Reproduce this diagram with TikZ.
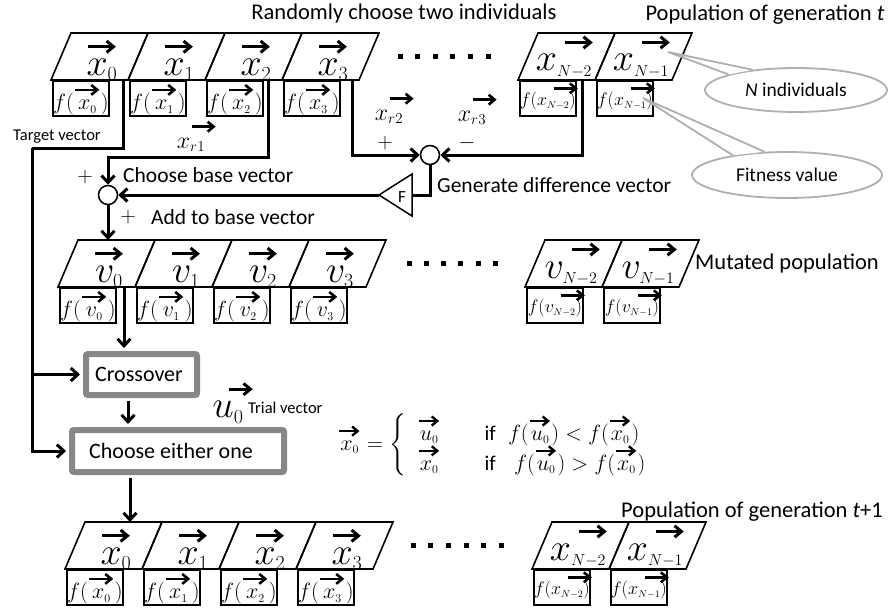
\RequirePackage{fix-cm}
\documentclass[tikz,border=0pt]{standalone}
\usepackage{amsmath}
\usepackage{graphicx}
\usepackage[no-math]{fontspec}
\setmainfont{Carlito}
\usetikzlibrary{arrows.meta,calc,shapes.geometric}
\DeclareMathSizes{38}{38}{20}{16}
\DeclareMathSizes{24}{24}{15}{10}
\DeclareMathSizes{22}{22}{12}{9}
\DeclareMathSizes{18}{18}{10}{8}
\definecolor{boxgray}{RGB}{135,135,135}
\definecolor{tipgray}{RGB}{175,175,175}

% heavy vector arrow over a symbol: #1 arrow length, #2 stroke width, #3 symbol
\newcommand\ovec[3]{\overset{\tikz\draw[line width=#2,
  -{Straight Barb[length=0pt 2.3,width=0pt 3.8]}] (0pt,0pt) -- (#1,0pt);}{#3}}

\tikzset{
  cellline/.style={line width=1.6pt},
  celltext/.style={inner sep=0pt, font=\fontsize{38}{38}\selectfont},
  fitbox/.style={draw, line width=1.8pt, minimum width=56pt, minimum height=35pt,
    inner sep=0pt, anchor=north west, font=\fontsize{22}{22}\selectfont},
  fitboxs/.style={fitbox, font=\fontsize{18}{18}\selectfont},
  wire/.style={line width=3pt},
  conn/.style={line width=3pt, -{Straight Barb[length=7pt,width=13pt]}},
  procbox/.style={draw=boxgray, line width=6pt, fill=white, rounded corners=2pt,
    inner sep=0pt},
  proctext/.style={inner sep=0pt, font=\fontsize{22}{22}\selectfont},
  sumnode/.style={circle, draw, line width=1.5pt, minimum size=19pt, inner sep=0pt},
  head/.style={inner sep=0pt, font=\fontsize{22.5}{22.5}\selectfont},
  lbl/.style={inner sep=0pt, font=\fontsize{21.5}{21.5}\selectfont},
  small/.style={inner sep=0pt, font=\fontsize{16.5}{16.5}\selectfont},
  vlab/.style={inner sep=0pt, font=\fontsize{24}{24}\selectfont},
  callout/.style={draw=tipgray, line width=1.8pt, fill=white, ellipse, inner sep=0pt,
    font=\fontsize{19.5}{19.5}\selectfont},
  tipline/.style={draw=tipgray, line width=1.8pt},
}

% one individual: parallelogram with its vector and the fitness box below
% #1 name, #2 x of lower left corner, #3 y of lower edge, #4 vector, #5 fitness,
% #6 box style, #7 horizontal place of the vector inside the parallelogram
\newcommand\popcell[7]{%
  \draw[cellline] (#2,#3) -- ++(77,0) -- ++(20,-47) -- ++(-77,0) -- cycle;
  \path (#2,#3) ++(#7,-21) node[celltext] (#1) {$\ovec{28pt}{3pt}{#4}$};
  \path (#2,#3) ++(1,0) node[#6] (#1f) {$f(\ovec{24pt}{2.6pt}{#5})$};
}

\begin{document}
\begin{tikzpicture}[x=1pt,y=-1pt]
\useasboundingbox (0,0) rectangle (888,608);

% ---------- generation t ----------
\node[head] (hrand) at (404,14) {Randomly choose two individuals};
\node[head] (hpop) at (765,15) {Population of generation \textit{t}};

\popcell{x0}{51}{80}{x_0}{x_0}{fitbox}{51}
\popcell{x1}{128}{80}{x_1}{x_1}{fitbox}{51}
\popcell{x2}{205}{80}{x_2}{x_2}{fitbox}{51}
\popcell{x3}{282}{80}{x_3}{x_3}{fitbox}{51}
\popcell{xm}{518}{80}{x_{\scriptscriptstyle N-2}}{x_{N-2}}{fitboxs}{46}
\popcell{xn}{595}{80}{x_{\scriptscriptstyle N-1}}{x_{N-1}}{fitboxs}{46}
\foreach \i in {0,...,5} \fill ({400+17.6*\i-2.5},53.5) rectangle ++(5,5);

% callouts
\node[callout, minimum width=182pt, minimum height=44pt] (nind) at (796,90) {\textit{N} individuals};
\coordinate (nindtip) at (668,52);
\fill[white] (nind.167) -- (nind.155) -- ($(nind.167)!0.5!(nind.155)!0.4!(nindtip)$) -- cycle;
\draw[tipline] (nind.167) -- (nindtip) -- (nind.155);

\node[callout, minimum width=190pt, minimum height=46pt] (nfit) at (787,175) {Fitness value};
\coordinate (nfittip) at (643,98);
\fill[white] (nfit.160) -- (nfit.134) -- ($(nfit.160)!0.5!(nfit.134)!0.4!(nfittip)$) -- cycle;
\draw[tipline] (nfit.160) -- (nfittip) -- (nfit.134);

% ---------- mutation ----------
\coordinate (x0o) at (123,80);
\coordinate (x2o) at (268,80);
\coordinate (x3o) at (352,80);
\coordinate (xmo) at (582,80);
\coordinate (tgtcorner) at (32,148);
\coordinate (r1corner) at (268,157);

\node[sumnode] (base) at (108,195) {};
\node[sumnode] (diff) at (430,155) {};
\draw[line width=1.5pt, line join=miter] (412,174) -- (412,216) -- (379,195) -- cycle;
\coordinate (fin) at (412,195);
\coordinate (fout) at (379,195);
\node[inner sep=0pt, font=\fontsize{17}{17}\selectfont] (amp) at (402,197) {F};

\node[small, anchor=west] (ttgt) at (13,137) {Target vector};
\node[vlab] (lr1) at (191,138) {$\ovec{24pt}{2.6pt}{x_{r1}}$};
\node[vlab] (lr2) at (389,110) {$\ovec{24pt}{2.6pt}{x_{r2}}$};
\node[lbl] (plus2) at (385,143) {$+$};
\node[vlab] (lr3) at (472,111) {$\ovec{24pt}{2.6pt}{x_{r3}}$};
\node[lbl] (minus3) at (467,143) {$-$};
\node[lbl] (plusb) at (85,177) {$+$};
\node[lbl, anchor=west] (tbase) at (123,175) {Choose base vector};
\node[lbl] (plusa) at (128,217) {$+$};
\node[lbl, anchor=west] (tadd) at (151,217) {Add to base vector};
\node[lbl, anchor=west] (tgen) at (437,185) {Generate difference vector};

\draw[conn] (x2o) -- (r1corner) -| (base.north);
\draw[conn] (x3o) |- (diff.west);
\draw[conn] (xmo) |- (diff.east);
\draw[wire] (diff.south) |- (fin);
\draw[conn] (fout) -- (base.east);
\coordinate (v0top) at (108,240);
\draw[conn] (base.south) -- (v0top);

% ---------- mutated population ----------
\popcell{v0}{58}{287}{v_0}{v_0}{fitbox}{51}
\popcell{v1}{135}{287}{v_1}{v_1}{fitbox}{51}
\popcell{v2}{212}{287}{v_2}{v_2}{fitbox}{51}
\popcell{v3}{289}{287}{v_3}{v_3}{fitbox}{51}
\popcell{vm}{525}{287}{v_{\scriptscriptstyle N-2}}{v_{N-2}}{fitboxs}{46}
\popcell{vn}{602}{287}{v_{\scriptscriptstyle N-1}}{v_{N-1}}{fitboxs}{46}
\foreach \i in {0,...,5} \fill ({409+17.3*\i-2.5},260.5) rectangle ++(5,5);
\node[head, anchor=west] (hmut) at (695,263) {Mutated population};

% ---------- crossover and selection ----------
\node[procbox, minimum width=111pt, minimum height=41pt] (cross) at (141.5,374.5) {};
\node[proctext] (tcross) at (139,374) {Crossover};
\node[procbox, minimum width=212pt, minimum height=42pt] (choose) at (178,451) {};
\node[proctext] (tchoose) at (171,451) {Choose either one};
\coordinate (v0o) at (124,287);
\coordinate (ccol) at (128,400);
\coordinate (scol) at (130,480);
\coordinate (x0n) at (130,522);

\draw[wire] (x0o) |- (tgtcorner);
\draw[conn, shorten >=3pt] (tgtcorner) |- (choose.west);
\draw[conn, shorten >=3pt] (tgtcorner |- cross.west) -- (cross.west);
\draw[conn, shorten >=3pt] (v0o) -- (v0o |- cross.north);
\draw[conn, shorten <=3pt, shorten >=3pt] (cross.south -| ccol) -- (choose.north -| ccol);
\draw[conn, shorten <=3pt] (choose.south -| scol) -- (x0n);

\node[celltext] (lu0) at (228,405) {$\ovec{24pt}{3pt}{u_0}$};
\node[small, anchor=west] (ttrial) at (248,408) {Trial vector};

\node[inner sep=0pt, font=\fontsize{22}{22}\selectfont] (rule) at (495,445)
  {$\ovec{20pt}{2.4pt}{x_0} = \left\{\begin{array}{@{\;\;}l@{\qquad}l@{\;\;}l}
     \ovec{20pt}{2.4pt}{u_0} & \text{\fontsize{21}{21}\selectfont if} &
       f(\ovec{20pt}{2.4pt}{u_0}) < f(\ovec{20pt}{2.4pt}{x_0})\\[-4pt]
     \ovec{20pt}{2.4pt}{x_0} & \text{\fontsize{21}{21}\selectfont if} &
       \;f(\ovec{20pt}{2.4pt}{u_0}) > f(\ovec{20pt}{2.4pt}{x_0})
   \end{array}\right.$};

% ---------- generation t+1 ----------
\node[head] (hpop2) at (752,512) {Population of generation \textit{t}+1};
\popcell{y0}{65}{569}{x_0}{x_0}{fitbox}{51}
\popcell{y1}{142}{569}{x_1}{x_1}{fitbox}{51}
\popcell{y2}{219}{569}{x_2}{x_2}{fitbox}{51}
\popcell{y3}{296}{569}{x_3}{x_3}{fitbox}{51}
\popcell{ym}{532}{569}{x_{\scriptscriptstyle N-2}}{x_{N-2}}{fitboxs}{46}
\popcell{yn}{609}{569}{x_{\scriptscriptstyle N-1}}{x_{N-1}}{fitboxs}{46}
\foreach \i in {0,...,5} \fill ({413+17.7*\i-2.5},542.5) rectangle ++(5,5);
\end{tikzpicture}
\end{document}
